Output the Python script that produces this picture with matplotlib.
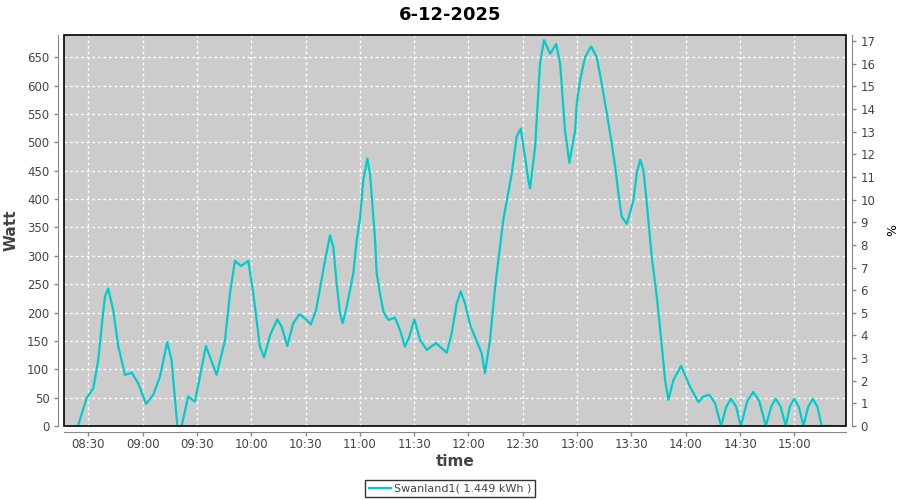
import matplotlib
matplotlib.use("Agg")
import matplotlib.pyplot as plt
from matplotlib.patches import Rectangle
from matplotlib.ticker import MultipleLocator

# Power readings: minutes after midnight, Watt
minutes = [
    504.3, 509.1, 512.8, 515.5, 517.4, 519.2, 521.0, 523.8, 526.6, 530.3,
    534.0, 537.6, 541.9, 545.9, 549.6, 553.6, 556.0, 559.2, 561.6, 565.2,
    568.9, 575.0, 580.9, 585.5, 588.3, 591.0, 594.4, 598.4, 601.1, 604.8,
    607.1, 610.4, 614.4, 616.8, 619.9, 623.2, 626.6, 630.6, 632.9, 635.8,
    640.8, 643.5, 645.3, 647.2, 649.0, 650.5, 652.7, 656.4, 658.3, 660.1,
    661.9, 664.1, 665.6, 668.4, 669.3, 671.1, 673.0, 675.7, 679.4, 682.2,
    684.9, 687.3, 690.1, 693.2, 696.9, 702.1, 705.2, 708.0, 710.7, 713.5,
    715.7, 718.1, 720.9, 723.6, 727.3, 729.1, 731.9, 734.7, 739.2, 743.9,
    746.6, 748.9, 751.2, 753.1, 754.0, 756.8, 759.5, 761.7, 765.1, 768.4,
    770.6, 773.3, 775.7, 778.9, 779.8, 781.6, 784.4, 787.7, 790.8, 793.6,
    796.4, 799.1, 801.0, 802.8, 804.6, 807.4, 811.1, 812.9, 814.8, 816.6,
    818.5, 821.2, 824.0, 825.8, 828.6, 830.4, 833.2, 837.4, 842.4, 847.0,
    849.7, 853.0, 856.2, 859.5, 862.4, 865.0, 867.8, 870.4, 874.0, 877.3,
    880.6, 884.2, 887.2, 889.7, 892.4, 895.2, 897.5, 899.8, 902.4, 905.0,
    907.6, 910.2, 912.7, 915.1, 919.7,
]
watt = [
    0, 49, 67, 116, 175, 228, 242, 204, 140, 90,
    94, 75, 39, 55, 87, 148, 116, 0, 0, 52,
    43, 141, 90, 151, 234, 291, 282, 291, 234, 140,
    121, 160, 188, 175, 141, 181, 197, 187, 179, 204,
    292, 336, 316, 251, 199, 181, 210, 269, 328, 366,
    433, 471, 445, 328, 269, 234, 201, 187, 191, 169,
    140, 157, 188, 152, 134, 146, 137, 129, 163, 216,
    237, 216, 178, 157, 128, 93, 152, 245, 363, 445,
    510, 524, 474, 433, 419, 492, 639, 680, 656, 673,
    639, 521, 464, 521, 568, 609, 650, 669, 650, 603,
    551, 498, 457, 410, 369, 356, 398, 445, 469, 451,
    392, 298, 228, 172, 81, 46, 81, 106, 69, 42,
    52, 55, 40, 0, 34, 48, 34, 0, 44, 60,
    44, 0, 34, 48, 34, 0, 34, 48, 34, 0,
    34, 48, 34, 0, 0,
]
tick_labels = ["08:30", "09:00", "09:30", "10:00", "10:30", "11:00", "11:30",
               "12:00", "12:30", "13:00", "13:30", "14:00", "14:30", "15:00"]
title = "6-12-2025"
series_label = "Swanland1( 1.449 kWh )"

LINE = "#00CCCC"
TXT = "#444444"
AX = "#888888"

fig = plt.figure(figsize=(9, 5), dpi=100)
ax = fig.add_axes([64 / 900, 74 / 500, 782 / 900, 391 / 500])
ax.set_facecolor("#CCCCCC")

tick_pos = [int(s[:2]) * 60 + int(s[3:]) for s in tick_labels]

ax.plot(minutes, watt, color=LINE, lw=1.6, label=series_label, zorder=3,
        solid_joinstyle="round")
ax.set_xlim(496.6, 928.5)
ax.set_ylim(0, 689)
ax.set_xticks(tick_pos)
ax.set_xticklabels(tick_labels)
ax.yaxis.set_major_locator(MultipleLocator(50))
ax.grid(True, color="white", ls=(0, (2, 2)), lw=1.0)
ax.set_axisbelow(True)

ax2 = ax.twinx()
ax2.set_ylim(0, 689 / 39.9)
ax2.yaxis.set_major_locator(MultipleLocator(1))

for a in (ax, ax2):
    for sp in a.spines.values():
        sp.set_visible(False)
    a.tick_params(colors=AX, labelcolor=TXT, labelsize=8.5, length=3, width=1)
for name in ("left", "bottom"):
    ax.spines[name].set_visible(True)
    ax.spines[name].set_position(("outward", 4))
    ax.spines[name].set_color(AX)
ax2.spines["right"].set_visible(True)
ax2.spines["right"].set_position(("outward", 4))
ax2.spines["right"].set_color(AX)
ax.tick_params(axis="x", pad=2)

# black frame round the plot area
ax.add_patch(Rectangle((0, 0), 1, 1, transform=ax.transAxes, fill=False,
                       ec="black", lw=1.2, zorder=5, clip_on=False))

ax.set_ylabel("Watt", fontsize=11, fontweight="bold", color=TXT, labelpad=6)
ax.set_xlabel("time", fontsize=11, fontweight="bold", color=TXT, labelpad=2)
ax2.set_ylabel("%", fontsize=9, color="black", labelpad=8)
fig.suptitle(title, x=0.5, y=0.988, fontsize=13, fontweight="bold")

leg = fig.legend(loc="lower center", bbox_to_anchor=(0.5, -0.006), ncol=1,
                 fontsize=8, frameon=True, fancybox=False, edgecolor="black",
                 handlelength=2.0, handletextpad=0.3, borderpad=0.35,
                 labelcolor=TXT)
leg.get_frame().set_linewidth(1.0)

fig.savefig("out.png", dpi=100, facecolor="white")
